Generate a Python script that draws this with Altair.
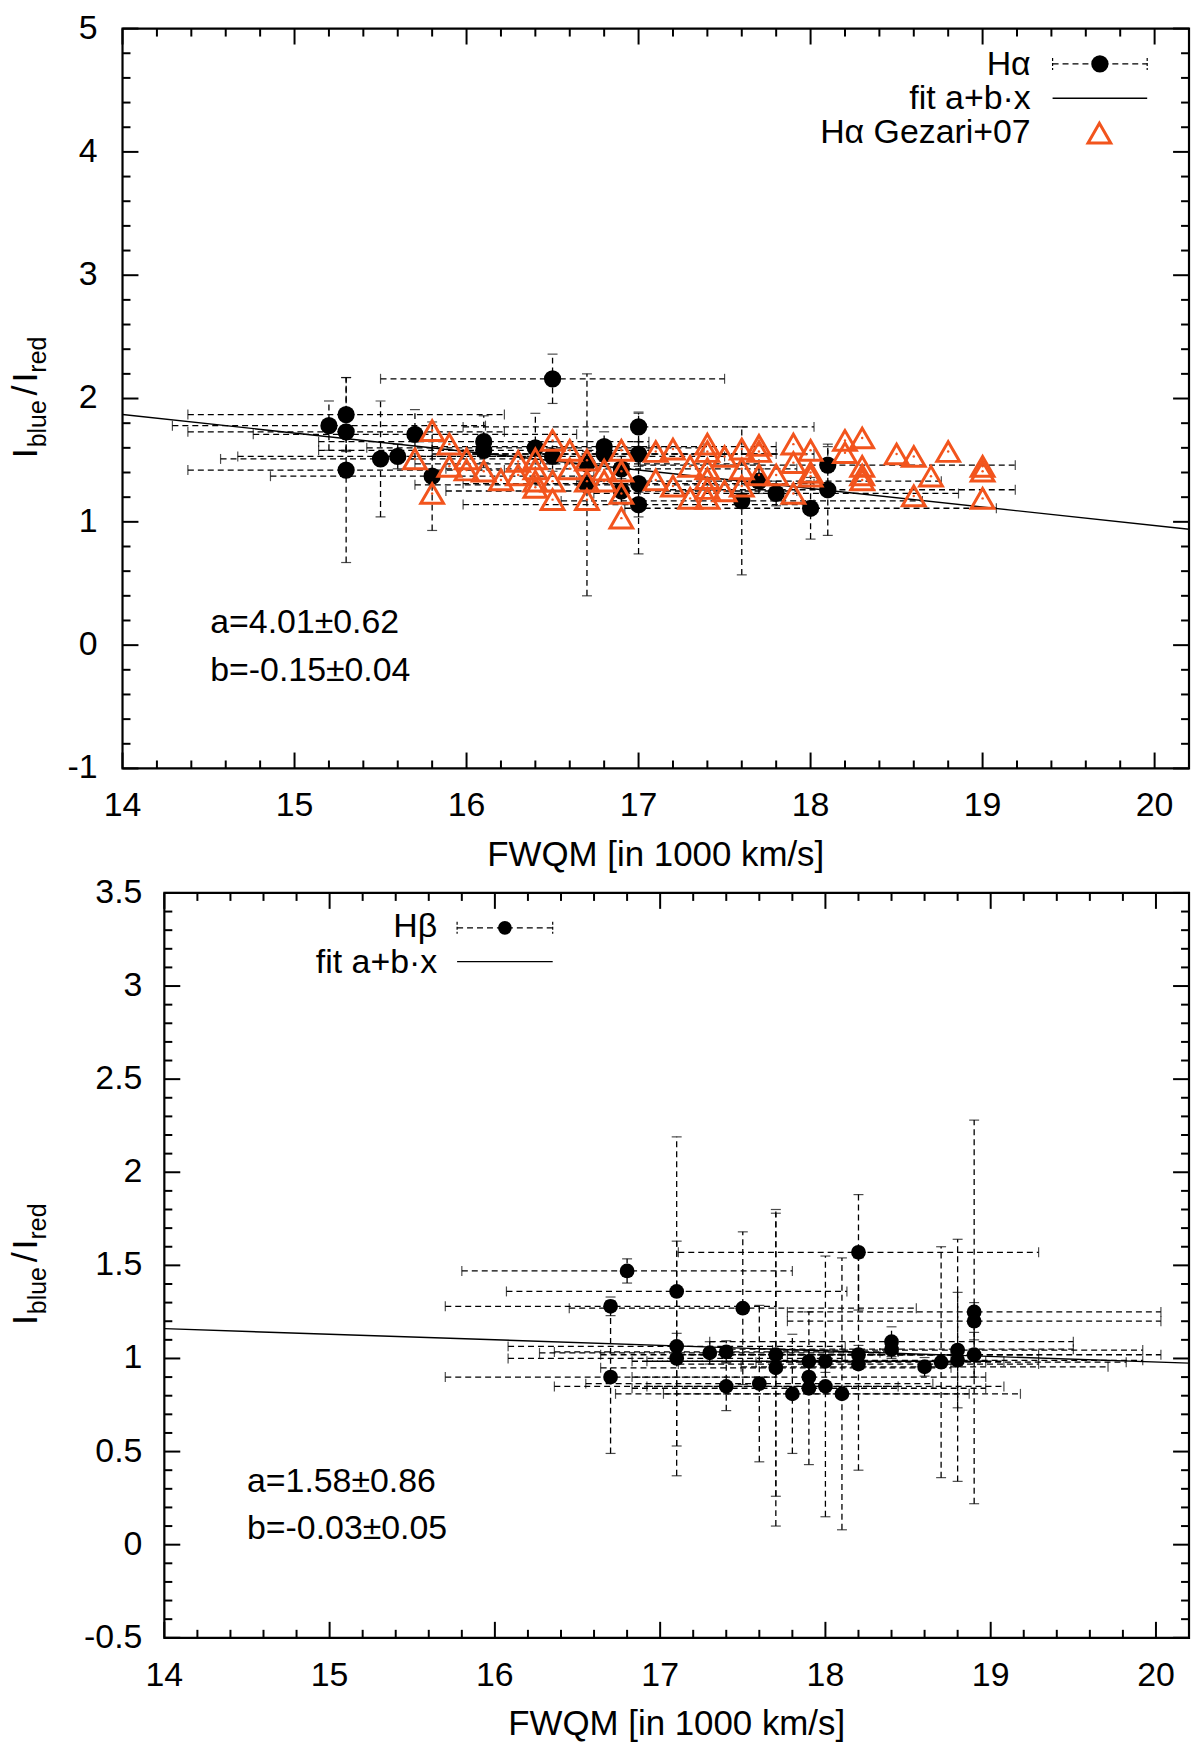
import altair as alt
import pandas as pd

FONT = "Liberation Sans"
ORANGE = "#f2541d"
FS = 34

# ---- top panel: H-alpha, black points with x/y error bars ----
ha_x = [15.2, 15.3, 15.3, 15.3, 15.5, 15.6, 15.7, 15.8, 16.1, 16.1,
        16.4, 16.5, 16.5, 16.7, 16.7, 16.8, 16.8, 16.9, 16.9, 17.0,
        17.0, 17.0, 17.0, 17.6, 17.7, 17.8, 18.0, 18.1, 18.1]
ha_y = [1.78, 1.87, 1.73, 1.42, 1.51, 1.53, 1.71, 1.37, 1.65, 1.58,
        1.60, 2.16, 1.53, 1.47, 1.30, 1.61, 1.55, 1.43, 1.25, 1.77,
        1.55, 1.31, 1.14, 1.17, 1.33, 1.23, 1.11, 1.46, 1.26]
ha_xerr = [0.91, 0.92, 0.92, 0.92, 0.93, 0.93, 0.94, 0.94, 0.96, 0.96,
           0.98, 1.00, 1.00, 1.00, 1.00, 1.00, 1.00, 1.02, 1.02, 1.02,
           1.02, 1.02, 1.02, 1.05, 1.06, 1.06, 1.08, 1.09, 1.09]
ha_yerr = [0.20, 0.30, 0.15, 0.75, 0.47, 0.10, 0.20, 0.44, 0.21, 0.10,
           0.28, 0.20, 0.12, 0.10, 0.90, 0.12, 0.08, 0.10, 0.10, 0.12,
           0.10, 0.57, 0.10, 0.60, 0.10, 0.10, 0.25, 0.15, 0.37]

# H-alpha Gezari+07 (open orange triangles)
gz_x = [15.7, 15.8, 15.8, 15.9, 15.9, 16.0, 16.0, 16.1, 16.2, 16.3,
        16.3, 16.4, 16.4, 16.4, 16.4, 16.5, 16.5, 16.5, 16.6, 16.6,
        16.7, 16.7, 16.7, 16.8, 16.8, 16.9, 16.9, 16.9, 16.9, 17.1,
        17.1, 17.2, 17.2, 17.3, 17.3, 17.4, 17.4, 17.4, 17.4, 17.4,
        17.4, 17.5, 17.5, 17.6, 17.6, 17.6, 17.7, 17.7, 17.7, 17.8,
        17.9, 17.9, 17.9, 18.0, 18.0, 18.0, 18.2, 18.2, 18.3, 18.3,
        18.3, 18.3, 18.5, 18.6, 18.6, 18.7, 18.8, 19.0, 19.0, 19.0]
gz_y = [1.51, 1.74, 1.23, 1.63, 1.45, 1.51, 1.42, 1.41, 1.34, 1.49,
        1.38, 1.51, 1.43, 1.33, 1.28, 1.66, 1.33, 1.18, 1.58, 1.43,
        1.50, 1.33, 1.18, 1.42, 1.33, 1.58, 1.41, 1.23, 1.03, 1.57,
        1.34, 1.59, 1.29, 1.45, 1.19, 1.63, 1.57, 1.43, 1.35, 1.27,
        1.19, 1.53, 1.25, 1.59, 1.43, 1.29, 1.62, 1.57, 1.38, 1.38,
        1.63, 1.48, 1.23, 1.58, 1.40, 1.37, 1.66, 1.56, 1.68, 1.45,
        1.38, 1.34, 1.55, 1.53, 1.21, 1.37, 1.57, 1.45, 1.41, 1.19]

ha_fit_x = [14.0, 20.2]
ha_fit_y = [1.87, 0.94]
ha_text = ["a=4.01\u00b10.62", "b=-0.15\u00b10.04"]
ha_text_x = [14.51, 14.51]
ha_text_y = [0.098, -0.287]

# ---- bottom panel: H-beta ----
hb_x = [16.7, 16.7, 16.8, 17.1, 17.1, 17.1, 17.3, 17.4, 17.4, 17.5,
        17.6, 17.7, 17.7, 17.8, 17.9, 17.9, 17.9, 18.0, 18.0, 18.1,
        18.2, 18.2, 18.2, 18.4, 18.4, 18.6, 18.7, 18.8, 18.8, 18.9,
        18.9, 18.9]
hb_y = [1.28, 0.90, 1.47, 1.36, 1.065, 1.00, 1.03, 1.035, 0.85, 1.27,
        0.865, 1.02, 0.95, 0.81, 0.985, 0.90, 0.84, 0.985, 0.85, 0.81,
        1.57, 1.02, 0.97, 1.09, 1.05, 0.955, 0.98, 1.045, 0.99, 1.25,
        1.20, 1.02]
hb_xerr = [1.00, 1.00, 1.00, 1.03, 1.02, 1.02, 1.03, 1.04, 1.04, 1.05,
           1.05, 1.06, 1.06, 1.07, 1.07, 1.07, 1.07, 1.08, 1.08, 1.08,
           1.09, 1.09, 1.09, 1.10, 1.10, 1.11, 1.12, 1.12, 1.12, 1.13,
           1.13, 1.13]
hb_yerr = [0.05, 0.41, 0.065, 0.83, 0.07, 0.63, 0.06, 0.06, 0.13, 0.41,
           0.42, 0.76, 0.85, 0.32, 0.06, 0.08, 0.41, 0.06, 0.70, 0.73,
           0.31, 0.05, 0.57, 0.08, 0.05, 0.05, 0.62, 0.31, 0.65, 1.03,
           0.10, 0.12]

hb_fit_x = [14.0, 20.2]
hb_fit_y = [1.16, 0.975]
hb_text = ["a=1.58\u00b10.86", "b=-0.03\u00b10.05"]
hb_text_x = [14.5, 14.5]
hb_text_y = [0.281, 0.029]

# axis ticks
x_major = [14, 15, 16, 17, 18, 19, 20]
x_minor = [round(14 + 0.2 * i, 1) for i in range(31) if i % 5]
ya_major = [-1, 0, 1, 2, 3, 4, 5]
ya_minor = [round(-1 + 0.2 * i, 1) for i in range(31) if i % 5]
yb_major = [-0.5, 0, 0.5, 1, 1.5, 2, 2.5, 3, 3.5]
yb_minor = [round(-0.5 + 0.1 * i, 1) for i in range(41) if i % 5]

XTITLE = "FWQM [in 1000 km/s]"
one = pd.DataFrame({"k": [0]})
DASH = [6, 4]


def txt(s, x, y, size=FS, align="right", angle=0):
    return alt.Chart(one).mark_text(
        text=s, font=FONT, fontSize=size, align=align, baseline="alphabetic",
        angle=angle, color="black"
    ).encode(x=alt.value(x), y=alt.value(y))


def frame(x0, x1, h):
    return alt.Chart(one).mark_rect(filled=False, stroke="black", strokeWidth=2.2).encode(
        x=alt.value(x0), x2=alt.value(x1), y=alt.value(0), y2=alt.value(h))


def inner_ticks(xs, ys, x0, x1, h, xmaj, xmin, ymaj, ymin, big=16, small=8):
    out = []
    for vals, ln in ((xmaj, big), (xmin, small)):
        d = pd.DataFrame({"v": vals})
        for y0, y1 in ((h, h - ln), (0, ln)):
            out.append(alt.Chart(d).mark_rule(color="black", strokeWidth=2).encode(
                x=alt.X("v:Q", scale=xs, axis=None), y=alt.value(y0), y2=alt.value(y1)))
    for vals, ln in ((ymaj, big), (ymin, small)):
        d = pd.DataFrame({"v": vals})
        for a, b in ((x0, x0 + ln), (x1, x1 - ln)):
            out.append(alt.Chart(d).mark_rule(color="black", strokeWidth=2).encode(
                y=alt.Y("v:Q", scale=ys, axis=None), x=alt.value(a), x2=alt.value(b)))
    return out


def tick_labels(xs, ys, h, xvals, yvals, ylab_x):
    dx = pd.DataFrame({"v": xvals, "lab": [f"{v:g}" for v in xvals]})
    dy = pd.DataFrame({"v": yvals, "lab": [f"{v:g}" for v in yvals]})
    xl = alt.Chart(dx).mark_text(
        font=FONT, fontSize=FS, align="center", baseline="alphabetic", color="black").encode(
        x=alt.X("v:Q", scale=xs, axis=None), y=alt.value(h + 48), text="lab:N")
    yl = alt.Chart(dy).mark_text(
        font=FONT, fontSize=FS, align="right", baseline="middle", color="black").encode(
        y=alt.Y("v:Q", scale=ys, axis=None), x=alt.value(ylab_x), text="lab:N")
    return [xl, yl]


def errorbars(df, xs, ys):
    base = alt.Chart(df).transform_calculate(
        xlo="datum.x - datum.xerr", xhi="datum.x + datum.xerr",
        ylo="datum.y - datum.yerr", yhi="datum.y + datum.yerr")
    hbar = base.mark_rule(color="black", strokeWidth=1.3, strokeDash=DASH).encode(
        x=alt.X("xlo:Q", scale=xs, axis=None), x2="xhi:Q",
        y=alt.Y("y:Q", scale=ys, axis=None))
    vbar = base.mark_rule(color="black", strokeWidth=1.3, strokeDash=DASH).encode(
        x=alt.X("x:Q", scale=xs, axis=None),
        y=alt.Y("ylo:Q", scale=ys, axis=None), y2="yhi:Q")
    hcap = base.transform_fold(["xlo", "xhi"], as_=["end", "xe"]).mark_tick(
        orient="vertical", size=10, thickness=1.2, color="black").encode(
        x=alt.X("xe:Q", scale=xs, axis=None), y=alt.Y("y:Q", scale=ys, axis=None))
    vcap = base.transform_fold(["ylo", "yhi"], as_=["end", "ye"]).mark_tick(
        orient="horizontal", size=10, thickness=1.2, color="black").encode(
        x=alt.X("x:Q", scale=xs, axis=None), y=alt.Y("ye:Q", scale=ys, axis=None))
    return [hbar, vbar, hcap, vcap]


def ytitle(bx, bottom):
    parts = [("I", 36, 0, 0), ("blue", 25, 11, 9), ("/", 36, 63, 0),
             ("I", 36, 76, 0), ("red", 25, 86, 9)]
    return [txt(t, bx + dx, bottom - off, size=s, align="left", angle=270)
            for t, s, off, dx in parts]


def legend_sample(x0, x1, y, dot_size):
    xm = (x0 + x1) / 2
    return [
        alt.Chart(one).mark_rule(color="black", strokeWidth=1.2, strokeDash=[6, 4]).encode(
            x=alt.value(x0), x2=alt.value(x1), y=alt.value(y)),
        alt.Chart(one).mark_rule(color="black", strokeWidth=1.2, strokeDash=[3, 2]).encode(
            x=alt.value(x0), y=alt.value(y - 6), y2=alt.value(y + 6)),
        alt.Chart(one).mark_rule(color="black", strokeWidth=1.2, strokeDash=[3, 2]).encode(
            x=alt.value(x1), y=alt.value(y - 6), y2=alt.value(y + 6)),
        alt.Chart(one).mark_circle(size=dot_size, color="black", opacity=1).encode(
            x=alt.value(xm), y=alt.value(y)),
    ]


def labels(texts, xs_, ys_, xs, ys):
    d = pd.DataFrame({"t": texts, "x": xs_, "y": ys_})
    return alt.Chart(d).mark_text(
        font=FONT, fontSize=FS, align="left", baseline="alphabetic", color="black").encode(
        x=alt.X("x:Q", scale=xs, axis=None), y=alt.Y("y:Q", scale=ys, axis=None), text="t:N")


def xy(xs, ys):
    return dict(x=alt.X("x:Q", scale=xs, axis=None), y=alt.Y("y:Q", scale=ys, axis=None))


TRI = dict(shape="triangle-up", filled=False, size=520, stroke=ORANGE, strokeWidth=3, opacity=1)

# ---------------- top panel ----------------
W, H1, H2 = 1071, 743, 748
L2 = 42  # left edge of the lower frame (its y labels are wider)

xs1 = alt.Scale(domain=[14, 20.2], range=[0, W], nice=False, zero=False)
ys1 = alt.Scale(domain=[-1, 5], nice=False, zero=False)

ha = pd.DataFrame({"x": ha_x, "y": ha_y, "xerr": ha_xerr, "yerr": ha_yerr})
gz = pd.DataFrame({"x": gz_x, "y": gz_y})
fit1 = pd.DataFrame({"x": ha_fit_x, "y": ha_fit_y})

top_layers = [alt.Chart(fit1).mark_line(color="black", strokeWidth=1.4).encode(**xy(xs1, ys1))]
top_layers += errorbars(ha, xs1, ys1)
top_layers.append(alt.Chart(ha).mark_circle(size=300, color="black", opacity=1).encode(**xy(xs1, ys1)))
top_layers.append(alt.Chart(gz).mark_point(**TRI).encode(**xy(xs1, ys1)))
top_layers.append(alt.Chart(gz).mark_circle(size=6, color=ORANGE, opacity=1).encode(**xy(xs1, ys1)))
top_layers.append(labels(ha_text, ha_text_x, ha_text_y, xs1, ys1))
# key
top_layers += [txt("H\u03b1", 912, 47), txt("fit a+b\u00b7x", 912, 81),
               txt("H\u03b1 Gezari+07", 912, 115)]
top_layers += legend_sample(934, 1029, 35.5, 300)
top_layers.append(alt.Chart(one).mark_rule(color="black", strokeWidth=1.4).encode(
    x=alt.value(934), x2=alt.value(1029), y=alt.value(70)))
top_layers.append(alt.Chart(one).mark_point(**TRI).encode(x=alt.value(981), y=alt.value(105)))
top_layers += inner_ticks(xs1, ys1, 0, W, H1, x_major, x_minor, ya_major, ya_minor)
top_layers += tick_labels(xs1, ys1, H1, x_major, ya_major, -25)
top_layers.append(txt(XTITLE, W / 2, H1 + 98, size=35, align="center"))
top_layers += ytitle(-86, H1 / 2 + 60)
top_layers.append(frame(0, W, H1))

top = alt.layer(*top_layers).properties(width=W, height=H1)

# ---------------- bottom panel ----------------
xs2 = alt.Scale(domain=[14, 20.2], range=[L2, W], nice=False, zero=False)
ys2 = alt.Scale(domain=[-0.5, 3.5], nice=False, zero=False)

hb = pd.DataFrame({"x": hb_x, "y": hb_y, "xerr": hb_xerr, "yerr": hb_yerr})
fit2 = pd.DataFrame({"x": hb_fit_x, "y": hb_fit_y})

bot_layers = [alt.Chart(fit2).mark_line(color="black", strokeWidth=1.4).encode(**xy(xs2, ys2))]
bot_layers += errorbars(hb, xs2, ys2)
bot_layers.append(alt.Chart(hb).mark_circle(size=220, color="black", opacity=1).encode(**xy(xs2, ys2)))
bot_layers.append(labels(hb_text, hb_text_x, hb_text_y, xs2, ys2))
bot_layers += [txt("H\u03b2", L2 + 274, 44), txt("fit a+b\u00b7x", L2 + 274, 80)]
bot_layers += legend_sample(L2 + 294, L2 + 390, 35, 190)
bot_layers.append(alt.Chart(one).mark_rule(color="black", strokeWidth=1.4).encode(
    x=alt.value(L2 + 294), x2=alt.value(L2 + 390), y=alt.value(69)))
bot_layers += inner_ticks(xs2, ys2, L2, W, H2, x_major, x_minor, yb_major, yb_minor)
bot_layers += tick_labels(xs2, ys2, H2, x_major, yb_major, L2 - 22)
bot_layers.append(txt(XTITLE, (L2 + W) / 2, H2 + 98, size=35, align="center"))
bot_layers += ytitle(-86, H2 / 2 + 60)
bot_layers.append(frame(L2, W, H2))

bottom = alt.layer(*bot_layers).properties(width=W, height=H2)

chart = alt.vconcat(top, bottom, spacing=3).properties(
    padding={"left": 0, "top": 0, "right": 0, "bottom": 0}
).configure_view(stroke=None)

chart.save("out.html", embed_options={"renderer": "svg", "actions": False})
